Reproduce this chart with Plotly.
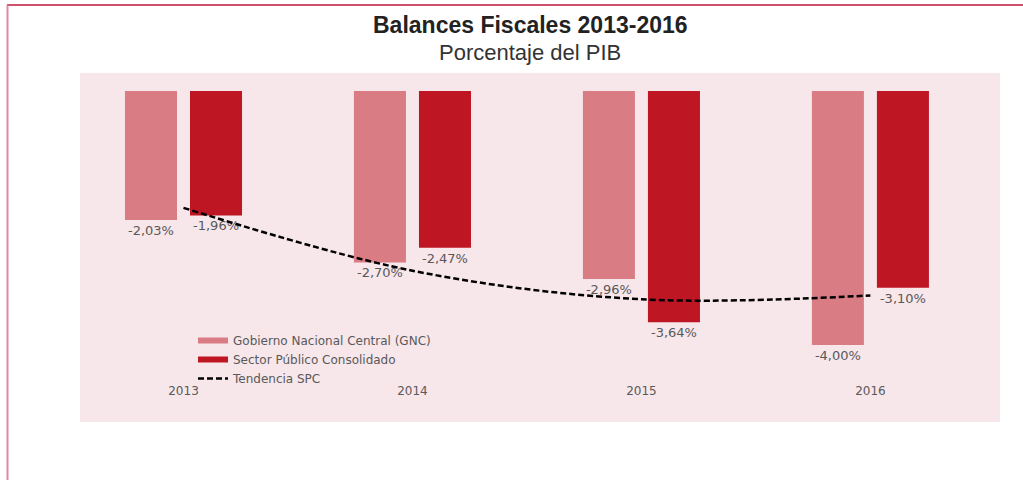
import plotly.graph_objects as go

years = ["2013", "2014", "2015", "2016"]
gnc = [-2.03, -2.70, -2.96, -4.00]
spc = [-1.96, -2.47, -3.64, -3.10]
trend_spc = [-1.84, -2.83, -3.28, -3.22]

name_gnc = "Gobierno Nacional Central (GNC)"
name_spc = "Sector Público Consolidado"
name_trend = "Tendencia SPC"

c_gnc = "#D97C84"
c_spc = "#BE1622"
gray = "#595959"
pink = "#F7E6EA"

def fmt(v):
    return f"{v:.2f}%".replace(".", ",")

# plot area in pixels
L, R, T, B = 80, 1000, 72, 382
W, H = R - L, B - T

def px(x):
    return (x - L) / W

def py(y):
    return (B - y) / H

label_font = dict(family="DejaVu Sans", size=13, color=gray)

fig = go.Figure()
fig.add_trace(go.Bar(x=years, y=gnc, name=name_gnc, marker=dict(color=c_gnc, line=dict(width=0)),
                     text=[fmt(v) for v in gnc], textposition="outside", textfont=label_font,
                     showlegend=False, cliponaxis=False))
fig.add_trace(go.Bar(x=years, y=spc, name=name_spc, marker=dict(color=c_spc, line=dict(width=0)),
                     text=[fmt(v) for v in spc], textposition="outside", textfont=label_font,
                     showlegend=False, cliponaxis=False))
fig.add_trace(go.Scatter(x=years, y=trend_spc, mode="lines", name=name_trend,
                         line=dict(color="black", width=2.5, dash="6px,3px", shape="spline"),
                         showlegend=False))
# legend entries
fig.add_trace(go.Scatter(x=[None], y=[None], mode="lines", name=name_gnc,
                         line=dict(color=c_gnc, width=6)))
fig.add_trace(go.Scatter(x=[None], y=[None], mode="lines", name=name_spc,
                         line=dict(color=c_spc, width=6)))
fig.add_trace(go.Scatter(x=[None], y=[None], mode="lines", name=name_trend,
                         line=dict(color="black", width=2.5, dash="6px,3px")))

zero_px = 91
unit = 63.5
fig.update_layout(
    width=1023, height=480,
    margin=dict(l=L, r=1023 - R, t=T, b=480 - B, pad=0),
    paper_bgcolor="white",
    plot_bgcolor="rgba(0,0,0,0)",
    barmode="group", bargap=0.432, bargroupgap=0.2,
    font=dict(family="DejaVu Sans", color=gray),
    xaxis=dict(type="category", range=[-0.452, 3.566], showgrid=False, zeroline=False,
               showline=False, ticks="", tickfont=dict(family="DejaVu Sans", size=12, color=gray)),
    yaxis=dict(range=[(zero_px - B) / unit, (zero_px - T) / unit], showgrid=False, zeroline=False,
               showline=False, showticklabels=False, ticks=""),
    legend=dict(x=px(193), y=py(326), xanchor="left", yanchor="top",
                bgcolor="rgba(0,0,0,0)", font=dict(family="DejaVu Sans", size=12, color=gray),
                tracegroupgap=0),
    showlegend=True,
    shapes=[
        dict(type="rect", xref="paper", yref="paper", x0=0, x1=1, y0=py(422), y1=py(73),
             fillcolor=pink, line=dict(width=0), layer="below"),
        dict(type="line", xref="paper", yref="paper", x0=px(7), x1=px(1023), y0=py(5), y1=py(5),
             line=dict(color="#C0143C", width=1.5)),
        dict(type="line", xref="paper", yref="paper", x0=px(7.5), x1=px(7.5), y0=py(5), y1=py(480),
             line=dict(color="#E088A0", width=2)),
    ],
    annotations=[
        dict(text="<b>Balances Fiscales 2013-2016</b>", xref="paper", yref="paper",
             x=px(530), y=py(25), xanchor="center", yanchor="middle", showarrow=False,
             font=dict(family="Liberation Sans, Arial", size=23, color="#222222")),
        dict(text="Porcentaje del PIB", xref="paper", yref="paper",
             x=px(530), y=py(52), xanchor="center", yanchor="middle", showarrow=False,
             font=dict(family="Liberation Sans, Arial", size=22, color="#333333")),
    ],
)

fig.write_html("out.html")
